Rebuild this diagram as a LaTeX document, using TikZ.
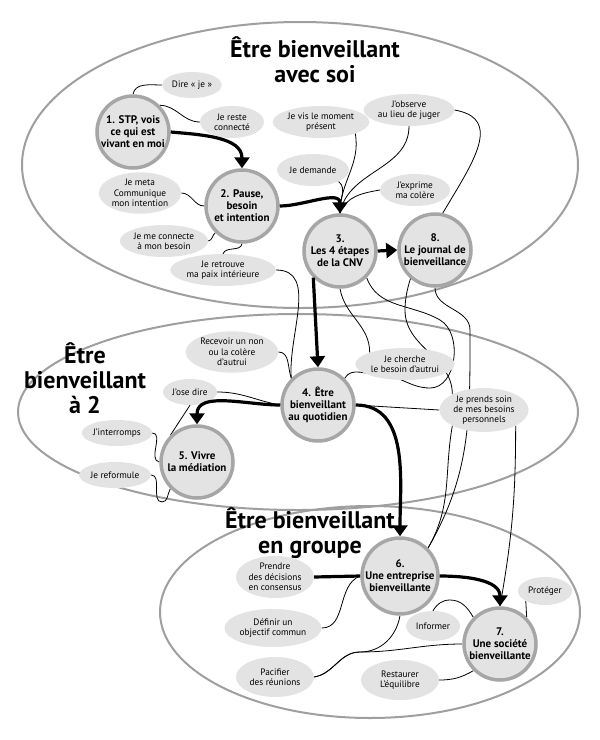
\documentclass[tikz,border=0pt]{standalone}
\usepackage{fontspec}
\setmainfont{PT Sans}
\usetikzlibrary{arrows.meta,shapes.geometric}
\pgfdeclarelayer{back}
\pgfdeclarelayer{bg}
\pgfsetlayers{back,bg,main}
\begin{document}
\begin{tikzpicture}[x=1pt,y=-1pt,
  zone/.style={draw=gray!75,line width=2pt},
  big/.style={circle,draw=gray!70,line width=3.5pt,fill=gray!22,minimum size=72pt,inner sep=0pt,align=center,font=\bfseries\fontsize{11}{12}\selectfont},
  leaf/.style={ellipse,fill=gray!22,inner sep=1pt,minimum width=64pt,minimum height=32pt,align=center,font=\fontsize{9.3}{10.3}\selectfont},
  ttl/.style={align=center,font=\bfseries\fontsize{24}{25}\selectfont},
  wire/.style={draw=black,line width=0.8pt},
  flow/.style={draw=black,line width=3.2pt,-{Triangle[width=15pt,length=11pt]}}]
\useasboundingbox (0,0) rectangle (600,740);
\begin{pgfonlayer}{back}
\fill[white] (0,0) rectangle (600,740);
\draw[zone] (300,165) ellipse [x radius=278,y radius=143];
\draw[zone] (298,412) ellipse [x radius=280,y radius=98];
\draw[zone] (370,612) ellipse [x radius=210,y radius=106];
\end{pgfonlayer}
% titles
\node[ttl] (t1) at (315,60) {Être bienveillant\\avec soi};
\node[ttl] (t2) at (85,378) {Être\\bienveillant\\à 2};
\node[ttl] (t3) at (310,533) {Être bienveillant\\en groupe};
% leaves
\node[leaf,minimum width=58pt,minimum height=26pt] (dire) at (192,85) {Dire « je »};
\node[leaf] (reste) at (232,122) {Je reste\\connecté};
\node[leaf,minimum width=76pt] (vis) at (321,122) {Je vis le moment\\présent};
\node[leaf,minimum width=76pt] (obs) at (409,110) {J'observe\\au lieu de juger};
\node[leaf,minimum width=72pt] (dem) at (313,170) {Je demande};
\node[leaf,minimum width=70pt] (exp) at (415,190) {J'exprime\\ma colère};
\node[leaf,minimum width=72pt,minimum height=38pt] (meta) at (140,193) {Je meta\\Communique\\mon intention};
\node[leaf,minimum width=72pt] (conn) at (164,241) {Je me connecte\\à mon besoin};
\node[leaf,minimum width=80pt] (retr) at (223,270) {Je retrouve\\ma paix intérieure};
\node[leaf,minimum width=72pt,minimum height=38pt] (recv) at (232,352) {Recevoir un non\\ou la colère\\d'autrui};
\node[leaf,minimum width=76pt] (cher) at (405,364) {Je cherche\\le besoin d'autrui};
\node[leaf,minimum width=54pt,minimum height=26pt] (ose) at (190,392) {J'ose dire};
\node[leaf,minimum width=76pt,minimum height=38pt] (soin) at (484,410) {Je prends soin\\de mes besoins\\personnels};
\node[leaf,minimum width=56pt,minimum height=26pt] (intr) at (117,433) {J'interromps};
\node[leaf,minimum width=56pt,minimum height=26pt] (refo) at (115,475) {Je reformule};
\node[leaf,minimum width=78pt,minimum height=42pt] (prend) at (275,577) {Prendre\\des décisions\\en consensus};
\node[leaf,minimum width=78pt,minimum height=38pt] (def) at (273,628) {Définir un\\objectif commun};
\node[leaf,minimum width=78pt,minimum height=40pt] (pac) at (275,677) {Pacifier\\des réunions};
\node[leaf,minimum width=54pt,minimum height=30pt] (inf) at (433,626) {Informer};
\node[leaf,minimum width=78pt,minimum height=40pt] (rest) at (400,680) {Restaurer\\L'équilibre};
\node[leaf,minimum width=54pt,minimum height=28pt] (prot) at (545,591) {Protéger};
% main circles
\node[big] (n1) at (133,132) {1. STP, vois\\ce qui est\\vivant en moi};
\node[big] (n2) at (242,206) {2. Pause,\\besoin\\et intention};
\node[big] (n3) at (340,251) {3.\\Les 4 étapes\\de la CNV};
\node[big] (n8) at (435,250) {8.\\Le journal de\\bienveillance};
\node[big] (n4) at (318,405) {4. Être\\bienveillant\\au quotidien};
\node[big] (n5) at (197,462) {5. Vivre\\la médiation};
\node[big] (n6) at (400,576) {6.\\Une entreprise\\bienveillante};
\node[big] (n7) at (500,644) {7.\\Une société\\bienveillante};
% thin connectors behind nodes
\begin{pgfonlayer}{bg}
\draw[wire] (n1.north) to[out=80,in=180] (dire.west);
\draw[wire] (n1.north east) to[out=0,in=180] (reste.west);
\draw[wire] (n2.west) to[out=180,in=0] (meta.east);
\draw[wire] (n2.south west) to[out=220,in=10] (conn.east);
\draw[wire] (n2.south) to[out=260,in=70] (retr.north);
\draw[wire] (retr.east) to[out=0,in=95] (n4.north west);
\draw[wire] (vis.south east) to[out=-80,in=90] (n3.north);
\draw[wire] (obs.south) to[out=-90,in=80] (n3.north);
\draw[wire] (dem.south east) to[out=-40,in=100] (n3.north);
\draw[wire] (exp.west) to[out=190,in=70] (n3.north);
\draw[wire] (obs.east) to[out=-10,in=90] (405,310) to[out=-90,in=90] (soin.north west);
\draw[wire] (n3.south) to[out=-80,in=90] (cher.north west);
\draw[wire] (n3.south east) to[out=-70,in=150] (440,320) to[out=-30,in=0] (430,388) to[out=180,in=0] (380,375) to[out=180,in=60] (n4.north east);
\draw[wire] (recv.east) to[out=0,in=110] (n4.north west);
\draw[wire] (n4.east) -- (soin.west);
\draw[wire] (ose.east) to[out=0,in=170] (n4.west);
\draw[wire] (ose.south) -- (n5.north west);
\draw[wire] (intr.east) to[out=0,in=170] (n5.west);
\draw[wire] (refo.east) to[out=0,in=180] (162,502) to[out=0,in=240] (n5.south west);
\draw[wire] (soin.south west) to[out=-100,in=60] (n6.north east);
\draw[wire] (soin.south east) to[out=-90,in=80] (n7.north);
\draw[wire] (n8.south) to[out=-90,in=90] (470,330) to[out=-90,in=60] (n6.north east);
\draw[wire] (n6.west) to[out=200,in=0] (def.east);
\draw[wire] (n6.south) to[out=-100,in=0] (360,652) to[out=180,in=10] (pac.east);
\draw[wire] (pac.east) to[out=10,in=180] (360,652) to[out=0,in=180] (n7.west);
\draw[wire] (inf.north) to[out=60,in=180] (450,600) to[out=0,in=120] (n7.north west);
\draw[wire] (rest.east) to[out=0,in=210] (n7.south west);
\draw[wire] (prot.south west) -- (n7.north east);
\draw[line width=3.2pt] (prend.east) -- (n6.west);
\end{pgfonlayer}
% thick flows
\draw[flow] (n1.east) to[out=-5,in=90] (n2.north);
\draw[flow] (n2.east) to[out=0,in=90] (n3.north);
\draw[flow] (n3.east) -- (n8.west);
\draw[flow] (n3.south west) -- (n4.north);
\draw[flow] (n4.west) to[out=180,in=90] (n5.north);
\draw[flow] (n4.east) to[out=0,in=90] (n6.north);
\draw[flow] (n6.east) to[out=0,in=90] (n7.north);
\end{tikzpicture}
\end{document}
